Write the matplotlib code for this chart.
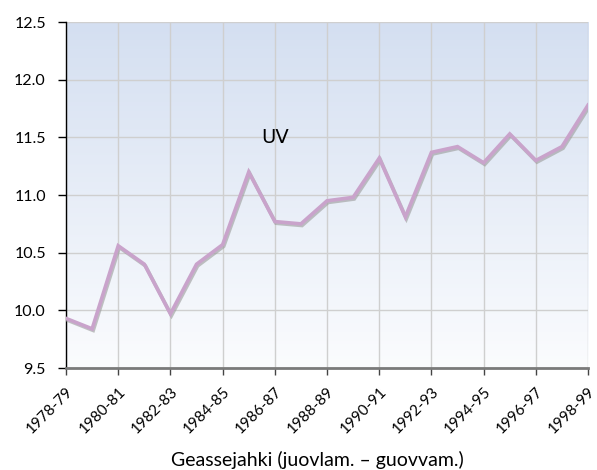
import numpy as np
import matplotlib.pyplot as plt
import matplotlib.patheffects as pe
from matplotlib.colors import LinearSegmentedColormap

seasons = ["1978-79", "1979-80", "1980-81", "1981-82", "1982-83", "1983-84",
           "1984-85", "1985-86", "1986-87", "1987-88", "1988-89", "1989-90",
           "1990-91", "1991-92", "1992-93", "1993-94", "1994-95", "1995-96",
           "1996-97", "1997-98", "1998-99"]
uv = [9.93, 9.84, 10.56, 10.40, 9.97, 10.40, 10.57, 11.20, 10.77, 10.75,
      10.95, 10.98, 11.32, 10.81, 11.37, 11.42, 11.28, 11.53, 11.30, 11.42,
      11.78]
yticks = [9.5, 10.0, 10.5, 11.0, 11.5, 12.0, 12.5]

plt.rcParams['font.family'] = ['Lato', 'DejaVu Sans']

fig = plt.figure(figsize=(5.97, 4.70), dpi=100)
ax = fig.add_axes([0.1106, 0.217, 0.8744, 0.736])

# vertical gradient behind the plot
cmap = LinearSegmentedColormap.from_list("bg", ["#fbfcfe", "#d4dff1"])
grad = np.linspace(0, 1, 256).reshape(-1, 1)
ax.imshow(grad, cmap=cmap, aspect="auto", origin="lower",
          extent=[0, 1, 0, 1], transform=ax.transAxes, zorder=0)

x = np.arange(len(seasons))
ax.plot(x, uv, color="#c9a3cb", linewidth=2.6, solid_joinstyle="miter", zorder=3,
        path_effects=[pe.SimpleLineShadow(offset=(0.8, -1.2), shadow_color="#9a9a9a", alpha=0.6),
                      pe.Normal()])
ax.text(8.0, 11.5, "UV", fontsize=14, ha="center", va="center",
        family=["DejaVu Sans"], zorder=4)

ax.set_xlim(0, len(seasons) - 1)
ax.set_ylim(9.5, 12.5)
ax.set_xticks(x[::2])
ax.set_xticklabels(seasons[::2], rotation=45, ha="right", rotation_mode="anchor",
                   fontsize=11)
ax.set_yticks(yticks)
ax.set_yticklabels([f"{v:.1f}" for v in yticks], fontsize=11.5)
ax.grid(True, color="#cfcfcf", linewidth=1.0, zorder=1)
ax.set_axisbelow(True)

for side in ["top", "right"]:
    ax.spines[side].set_visible(False)
ax.spines["left"].set_color("black")
ax.spines["left"].set_linewidth(1.0)
ax.spines["bottom"].set_color("#7a7a7a")
ax.spines["bottom"].set_linewidth(2.0)
ax.tick_params(axis="y", length=6, width=1, color="black", pad=8.5)
ax.tick_params(axis="x", length=5, width=1, color="#444444", pad=7)

fig.text(0.532, 0.0085, "Geassejahki (juovlam. – guovvam.)", fontsize=14,
         ha="center", va="baseline")

fig.savefig("out.png", dpi=100)
